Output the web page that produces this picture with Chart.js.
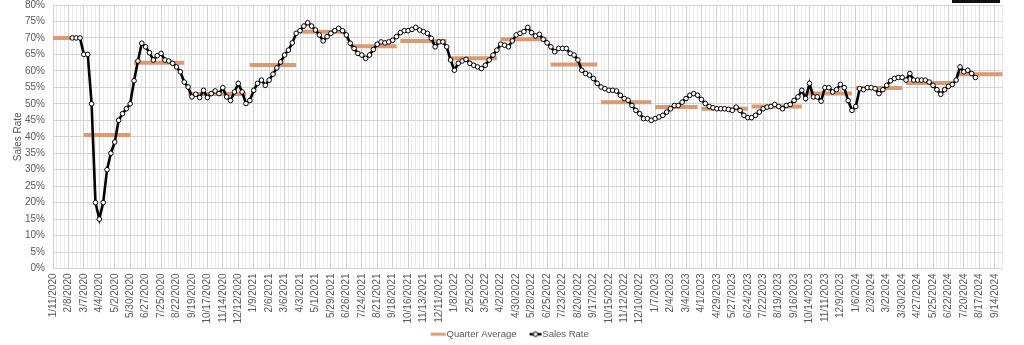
<!DOCTYPE html>
<html>
<head>
<meta charset="utf-8">
<script src="https://cdn.jsdelivr.net/npm/chart.js@4"></script>
<style>
  html, body { margin: 0; padding: 0; background: #fff; }
  #wrap { position: relative; width: 1024px; height: 345px; overflow: hidden; }
  #corner { position: absolute; left: 952px; top: 0; width: 48px; height: 3px; background: #111; }
</style>
</head>
<body>
<div id="wrap">
  <canvas id="salesChart" width="1024" height="345"></canvas>
  <div id="corner"></div>
</div>
<script>
// weekly categories, Saturdays from 1/11/2020
const firstWeek = Date.UTC(2020, 0, 11);
const weekCount = 247;
const labelEvery = 4;

// weekly sales rate (%), first value is the week of 2/15/2020
const salesStartWeek = 5;
const salesRate = [
  70, 70, 70, 65, 65, 50, 20, 15, 20, 30,
  35, 38.4, 45, 47, 48.5, 50, 57, 63, 68.4, 67.3,
  65.5, 63.3, 64.6, 65.3, 63.3, 63, 62.3, 61.2, 59.7, 56.6,
  55.1, 52.1, 52.9, 51.9, 54.1, 51.9, 53.1, 53.9, 53.1, 54.9,
  52.1, 51, 53.6, 56.2, 53.6, 50.1, 51, 54.1, 56.2, 57.2,
  55.6, 57.2, 59, 60.9, 62.7, 64.8, 66.3, 68.5, 71.4, 72.2,
  73.6, 74.6, 73.6, 72.4, 70.9, 69.1, 70.4, 71.4, 72.2, 72.9,
  72.2, 70.9, 68.4, 66.8, 65.3, 64.8, 63.8, 64.8, 66.5, 68.1,
  68.8, 68.5, 68.8, 69.3, 70.4, 71.6, 72.2, 72.2, 72.6, 73.2,
  72.4, 71.9, 71.4, 69.9, 67.3, 68.8, 68.8, 67.3, 63.3, 60.2,
  62.3, 63, 63.5, 62.3, 61.7, 61.2, 60.7, 61.7, 63.3, 64.8,
  66.3, 68.1, 67.8, 67.3, 69.1, 70.9, 71.4, 71.9, 73.2, 71.6,
  70.6, 71.1, 69.6, 68.5, 67.3, 65.8, 66.8, 66.8, 66.8, 65.3,
  64.8, 63.3, 60.2, 59.2, 58.7, 57.7, 56.2, 55.1, 54.6, 54.1,
  54.1, 53.9, 52.6, 51.6, 51.1, 49.5, 48, 47, 45.5, 45.5,
  45, 45.5, 46, 46.5, 47.5, 48.5, 49.5, 49.5, 50.5, 51.6,
  52.6, 53.1, 52.6, 51.3, 50.1, 49.2, 48.8, 48.5, 48.5, 48.5,
  48.3, 48, 49, 48, 46.5, 45.8, 45.8, 46.5, 47.5, 48.5,
  49, 49.2, 49.8, 49.2, 48.5, 49.5, 49.8, 51, 52.1, 54.1,
  51.6, 56.2, 52.1, 52.1, 50.8, 54.9, 54.9, 53.6, 54.3, 55.9,
  54.9, 51, 48, 49.2, 54.6, 54.3, 54.9, 54.9, 54.6, 53.1,
  54.3, 55.6, 57, 57.7, 58, 58, 57.2, 59.2, 57.2, 57.2,
  57.2, 57.2, 56.6, 55.6, 54.3, 52.9, 54.3, 55.3, 55.9, 57.2,
  61.2, 59.7, 60.2, 59.2, 58
];

// quarter blocks: first week index of each block and its average (%)
const quarterStart = [0, 8, 21, 35, 51, 64, 77, 90, 103, 116, 129, 142, 156, 168, 181, 195, 208, 221, 234];
const quarterAvg = [70, 40.5, 62.5, 53, 61.8, 71.9, 67.5, 69.1, 63.8, 69.6, 61.9, 50.5, 49, 48.5, 49.2, 53.1, 54.8, 56.3, 59];

const yTicks = [0, 5, 10, 15, 20, 25, 30, 35, 40, 45, 50, 55, 60, 65, 70, 75, 80];

const weekLabels = [];
for (let i = 0; i < weekCount; i++) {
  const d = new Date(firstWeek + i * 7 * 86400000);
  weekLabels.push(`${d.getUTCMonth() + 1}/${d.getUTCDate()}/${d.getUTCFullYear()}`);
}

const salesSeries = weekLabels.map((_, i) => {
  const v = salesRate[i - salesStartWeek];
  return v === undefined ? null : v;
});

const quarterSeries = weekLabels.map((_, i) => {
  let q = 0;
  while (q + 1 < quarterStart.length && quarterStart[q + 1] <= i) q++;
  return quarterAvg[q];
});

const font = 'Liberation Sans, Arial, sans-serif';
const textColor = '#595959';
const orange = '#dd9a70';

// legend marks are wider than the legend box so they run up to the text
function legendMark(color, width, from, withDot) {
  const c = document.createElement('canvas');
  c.width = 26;
  c.height = 8;
  const g = c.getContext('2d');
  g.strokeStyle = color;
  g.lineWidth = width;
  g.beginPath();
  g.moveTo(from, 4);
  g.lineTo(25, 4);
  g.stroke();
  if (withDot) {
    g.fillStyle = '#fff';
    g.lineWidth = 1;
    g.beginPath();
    g.arc((from + 25) / 2, 4, 2.3, 0, Math.PI * 2);
    g.fill();
    g.stroke();
  }
  return c;
}
const legendMarks = [legendMark(orange, 3, 10, false), legendMark('#000', 2.5, 13, true)];

new Chart(document.getElementById('salesChart'), {
  type: 'line',
  data: {
    labels: weekLabels,
    datasets: [
      {
        label: 'Quarter Average',
        data: quarterSeries,
        borderColor: orange,
        borderWidth: 4,
        pointRadius: 0,
        order: 1,
        segment: {
          // no connector between one quarter block and the next
          borderColor: (ctx) => (ctx.p0.parsed.y !== ctx.p1.parsed.y ? 'transparent' : undefined),
        },
      },
      {
        label: 'Sales Rate',
        data: salesSeries,
        borderColor: '#000',
        borderWidth: 2.6,
        pointRadius: 2.3,
        pointBackgroundColor: '#fff',
        pointBorderColor: '#000',
        pointBorderWidth: 1,
        order: 0,
      },
    ],
  },
  options: {
    responsive: false,
    animation: false,
    events: [],
    layout: { padding: { top: 5, right: 21.5, bottom: -4, left: 12 } },
    plugins: {
      tooltip: { enabled: false },
      legend: {
        position: 'bottom',
        labels: {
          usePointStyle: true,
          pointStyleWidth: 16,
          padding: 5,
          color: textColor,
          font: { family: font, size: 9.5 },
          sort: (a, b) => a.datasetIndex - b.datasetIndex,
          generateLabels(chart) {
            const items = Chart.defaults.plugins.legend.labels.generateLabels(chart);
            items.forEach((it) => { it.pointStyle = legendMarks[it.datasetIndex]; });
            return items;
          },
        },
      },
    },
    scales: {
      x: {
        type: 'category',
        offset: false,
        afterFit(scale) {
          scale.height = 56;
          scale.paddingLeft = 0;
          scale.paddingRight = 0;
        },
        border: { display: false },
        grid: {
          drawTicks: false,
          color: (ctx) => (ctx.index % labelEvery === 0 ? '#d0d0d0' : '#ececec'),
        },
        ticks: {
          autoSkip: false,
          minRotation: 90,
          maxRotation: 90,
          padding: 5,
          color: textColor,
          font: { family: font, size: 10 },
          callback: (v, i) => (i % labelEvery === 0 ? weekLabels[i] : ''),
        },
      },
      y: {
        min: yTicks[0],
        max: yTicks[yTicks.length - 1],
        afterFit(scale) {
          scale.width = 41;
          scale.paddingTop = 0;
          scale.paddingBottom = 0;
        },
        afterBuildTicks(scale) { scale.ticks = yTicks.map((v) => ({ value: v })); },
        border: { display: false },
        grid: { drawTicks: false, color: '#d4d4d4' },
        ticks: {
          padding: 8,
          color: textColor,
          font: { family: font, size: 10 },
          callback: (v) => v + '%',
        },
        title: {
          display: true,
          text: 'Sales Rate',
          color: textColor,
          font: { family: font, size: 10 },
          padding: { top: 0, bottom: 0 },
        },
      },
    },
  },
});
</script>
</body>
</html>
